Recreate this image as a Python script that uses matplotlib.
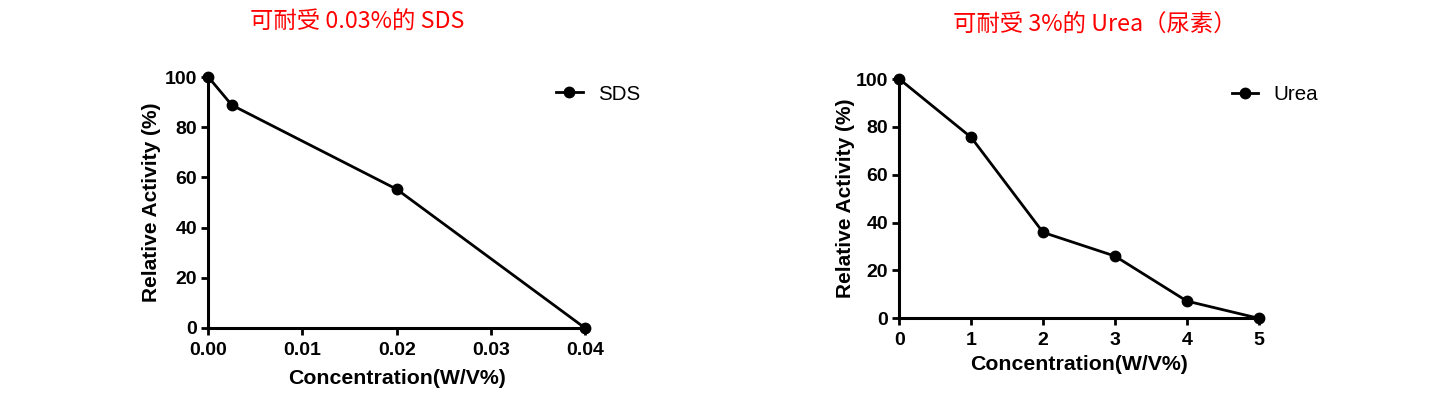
import matplotlib
matplotlib.use("Agg")
import matplotlib.pyplot as plt

# Data
sds_conc = [0.0, 0.0025, 0.02, 0.04]
sds_activity = [100.0, 88.8, 55.3, 0.0]
urea_conc = [0, 1, 2, 3, 4, 5]
urea_activity = [100.0, 75.6, 35.9, 26.0, 7.2, 0.0]

sds_xticks = [0.00, 0.01, 0.02, 0.03, 0.04]
sds_xticklabels = ["0.00", "0.01", "0.02", "0.03", "0.04"]
urea_xticks = [0, 1, 2, 3, 4, 5]
yticks = [0, 20, 40, 60, 80, 100]

title_left = "可耐受 0.03%的 SDS"
title_right = "可耐受 3%的 Urea（尿素）"
xlabel = "Concentration(W/V%)"
ylabel = "Relative Activity (%)"

W, H = 1436, 394
fig = plt.figure(figsize=(W / 100, H / 100), dpi=100)
fig.patch.set_facecolor("white")

sans = ["Liberation Sans", "DejaVu Sans"]
cjk = ["Noto Sans CJK SC", "DejaVu Sans"]


def px_axes(x0, x1, ytop, ybot):
    return fig.add_axes([x0 / W, 1 - ybot / H, (x1 - x0) / W, (ybot - ytop) / H])


def style(ax):
    for s in ["top", "right"]:
        ax.spines[s].set_visible(False)
    for s in ["left", "bottom"]:
        ax.spines[s].set_linewidth(2.2)
    ax.tick_params(direction="out", length=5, width=2.0)
    ax.tick_params(axis="x", pad=5)
    ax.tick_params(axis="y", pad=3)
    for lab in ax.get_xticklabels() + ax.get_yticklabels():
        lab.set_fontfamily(sans)
        lab.set_fontweight("bold")
        lab.set_fontsize(14)


# Left chart
ax1 = px_axes(208.3, 585.0, 77.0, 328.0)
ax1.plot(sds_conc, sds_activity, color="black", lw=2.0, marker="o", ms=7.5,
         clip_on=False, label="SDS")
ax1.set_xlim(0, 0.04)
ax1.set_ylim(0, 100)
ax1.set_xticks(sds_xticks)
ax1.set_xticklabels(sds_xticklabels)
ax1.set_yticks(yticks)
style(ax1)
ax1.set_xlabel(xlabel, fontfamily=sans, fontweight="bold", fontsize=15.3, labelpad=7)
ax1.set_ylabel(ylabel, fontfamily=sans, fontweight="bold", fontsize=15, labelpad=2.5)
ax1.legend(loc="center left", bbox_to_anchor=(556 / W, 1 - 94 / H),
           bbox_transform=fig.transFigure, frameon=False, borderpad=0,
           borderaxespad=0, handlelength=1.3, handletextpad=0.75,
           prop={"family": sans, "size": 14.8})

# Right chart
ax2 = px_axes(899.3, 1258.7, 79.0, 318.3)
ax2.plot(urea_conc, urea_activity, color="black", lw=2.0, marker="o", ms=7.5,
         clip_on=False, label="Urea")
ax2.set_xlim(0, 5)
ax2.set_ylim(0, 100)
ax2.set_xticks(urea_xticks)
ax2.set_yticks(yticks)
style(ax2)
ax2.set_xlabel(xlabel, fontfamily=sans, fontweight="bold", fontsize=15.3, labelpad=4.5)
ax2.set_ylabel(ylabel, fontfamily=sans, fontweight="bold", fontsize=15, labelpad=0.5)
ax2.legend(loc="center left", bbox_to_anchor=(1231.7 / W, 1 - 95 / H),
           bbox_transform=fig.transFigure, frameon=False, borderpad=0,
           borderaxespad=0, handlelength=1.3, handletextpad=0.75,
           prop={"family": sans, "size": 14.8})

# Titles
fig.text(357 / W, 1 - 22 / H, title_left, color="red", fontfamily=cjk,
         fontsize=16.8, ha="center", va="center")
fig.text(1095 / W, 1 - 25 / H, title_right, color="red", fontfamily=cjk,
         fontsize=16.8, ha="center", va="center")

fig.savefig("out.png", dpi=100, facecolor="white")
